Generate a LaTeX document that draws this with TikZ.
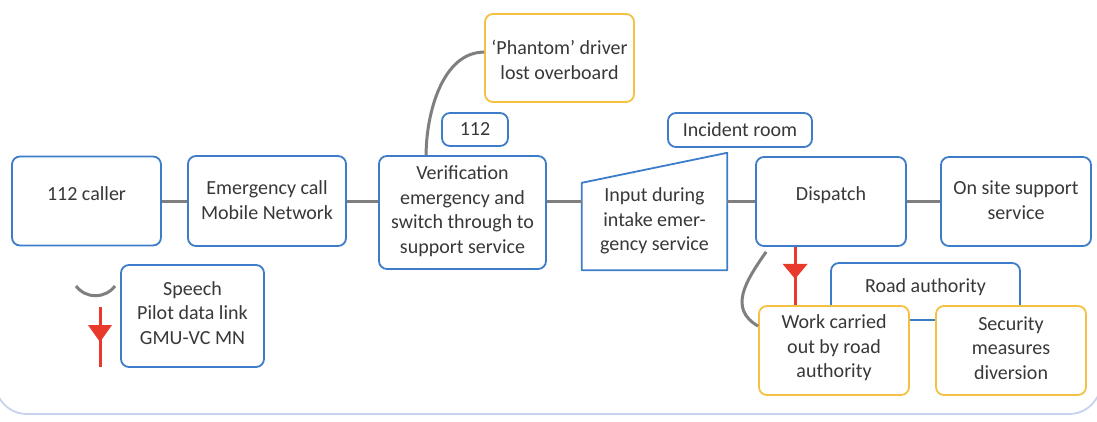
\documentclass[tikz,border=0pt]{standalone}
\usepackage{fontspec}
\setmainfont{Carlito}
\definecolor{bblue}{HTML}{3D7CC9}
\definecolor{yel}{HTML}{F5C144}
\definecolor{lgray}{HTML}{7F7F7F}
\definecolor{rred}{HTML}{E8392B}
\definecolor{frm}{HTML}{C8D2EE}
\definecolor{txt}{HTML}{383838}
\begin{document}
\begin{tikzpicture}[x=1pt,y=-1pt,
  font=\fontsize{20}{24.5}\selectfont,
  box/.style={draw=bblue, line width=1.8pt, rounded corners=8pt, fill=white, inner sep=0pt},
  ybox/.style={box, draw=yel},
  lbl/.style={text=txt, align=center, inner sep=0pt},
  conn/.style={draw=lgray, line width=3pt},
  speech/.style={draw=lgray, line width=3pt},
  dlink/.style={draw=rred, line width=3pt},
  frame/.style={draw=frm, line width=1.8pt, rounded corners=32pt}]
\useasboundingbox (0,0) rectangle (1097,421);
\begin{scope}
\clip (0,0) rectangle (1097,421);
\draw[frame] (-5,-60) rectangle (1101,414);
\end{scope}

% boxes
\node[box, minimum width=149, minimum height=89] (caller) at (86.5,201) {};
\node[lbl] (callert) at (86.5,194) {112 caller};
\node[box, minimum width=158, minimum height=90] (emerg) at (267,201) {};
\node[lbl] (emergt) at (267,200) {Emergency call\\Mobile Network};
\node[box, minimum width=167, minimum height=113] (verif) at (462.5,212.5) {};
\node[lbl] (verift) at (462.5,211) {Verification\\emergency and\\switch through to\\support service};
\node[ybox, minimum width=149, minimum height=88] (phantom) at (559.5,58) {};
\node[lbl] (phantomt) at (559.5,60) {‘Phantom’ driver\\lost overboard};
\node[box, minimum width=66, minimum height=33] (n112) at (475,129.5) {};
\node[lbl] (n112t) at (475,129.5) {112};
\node[inner sep=0pt, minimum width=145, minimum height=117] (inp) at (654.5,211.5) {};
\draw[draw=bblue, line width=1.8pt, line join=round]
  ([yshift=-30]inp.north west) -- (inp.north east) -- (inp.south east) -- (inp.south west) -- cycle;
\node[lbl] (inpt) at (654.5,221) {Input during\\intake emer-\\gency service};
\node[box, minimum width=144, minimum height=34] (incident) at (740,130) {};
\node[lbl] (incidentt) at (740,130) {Incident room};
\node[box, minimum width=150, minimum height=89] (disp) at (831,201.5) {};
\node[lbl] (dispt) at (831,195) {Dispatch};
\node[box, minimum width=150, minimum height=89] (onsite) at (1016,201.5) {};
\node[lbl] (onsitet) at (1016,200) {On site support\\service};
\node[box, minimum width=189, minimum height=57] (road) at (925.5,291.5) {};
\node[lbl] (roadt) at (925.5,287) {Road authority};
\node[ybox, minimum width=150, minimum height=89] (work) at (834,350.5) {};
\node[lbl] (workt) at (834,348) {Work carried\\out by road\\authority};
\node[ybox, minimum width=150, minimum height=89] (sec) at (1011,350.5) {};
\node[lbl] (sect) at (1011,348) {Security\\measures\\diversion};
\node[box, minimum width=143, minimum height=102] (speech) at (192.5,316) {};
\node[lbl] (speecht) at (192.5,313) {Speech\\Pilot data link\\GMU-VC MN};

% connectors
\draw[conn] (caller.east) -- (emerg.west);
\draw[conn] (emerg.east) -- (emerg.east -| verif.west);
\draw[conn] (emerg.east -| verif.east) -- (emerg.east -| inp.west);
\draw[conn] (disp.west -| inp.east) -- (disp.west);
\draw[conn] (disp.east) -- (onsite.west);
\draw[speech] ([xshift=48]verif.north west) to[out=90, in=180, looseness=0.9] ([yshift=-39]phantom.north west);
\draw[speech] ([xshift=11,yshift=-5]disp.south west) to[out=235, in=150, looseness=1.2] ([yshift=-21]work.north west);

% red data link
\coordinate (rtop) at ([xshift=40]disp.south west);
\coordinate (rbot) at (rtop |- work.north);
\draw[dlink] (rtop) -- (rbot);
\fill[rred] ([xshift=-12.5,yshift=-17]rtop) -- ([xshift=12.5,yshift=-17]rtop) -- ([yshift=-32]rtop) -- cycle;

% legend
\coordinate (la) at (76,286);
\coordinate (lb) at (115,286);
\draw[speech] (la) .. controls (86,299) and (105,299) .. (lb);
\coordinate (lt) at (100,307);
\coordinate (lbt) at (100,367);
\draw[dlink] (lt) -- (lbt);
\fill[rred] ([xshift=-12,yshift=-18]lt) -- ([xshift=12,yshift=-18]lt) -- ([yshift=-35]lt) -- cycle;
\end{tikzpicture}
\end{document}
